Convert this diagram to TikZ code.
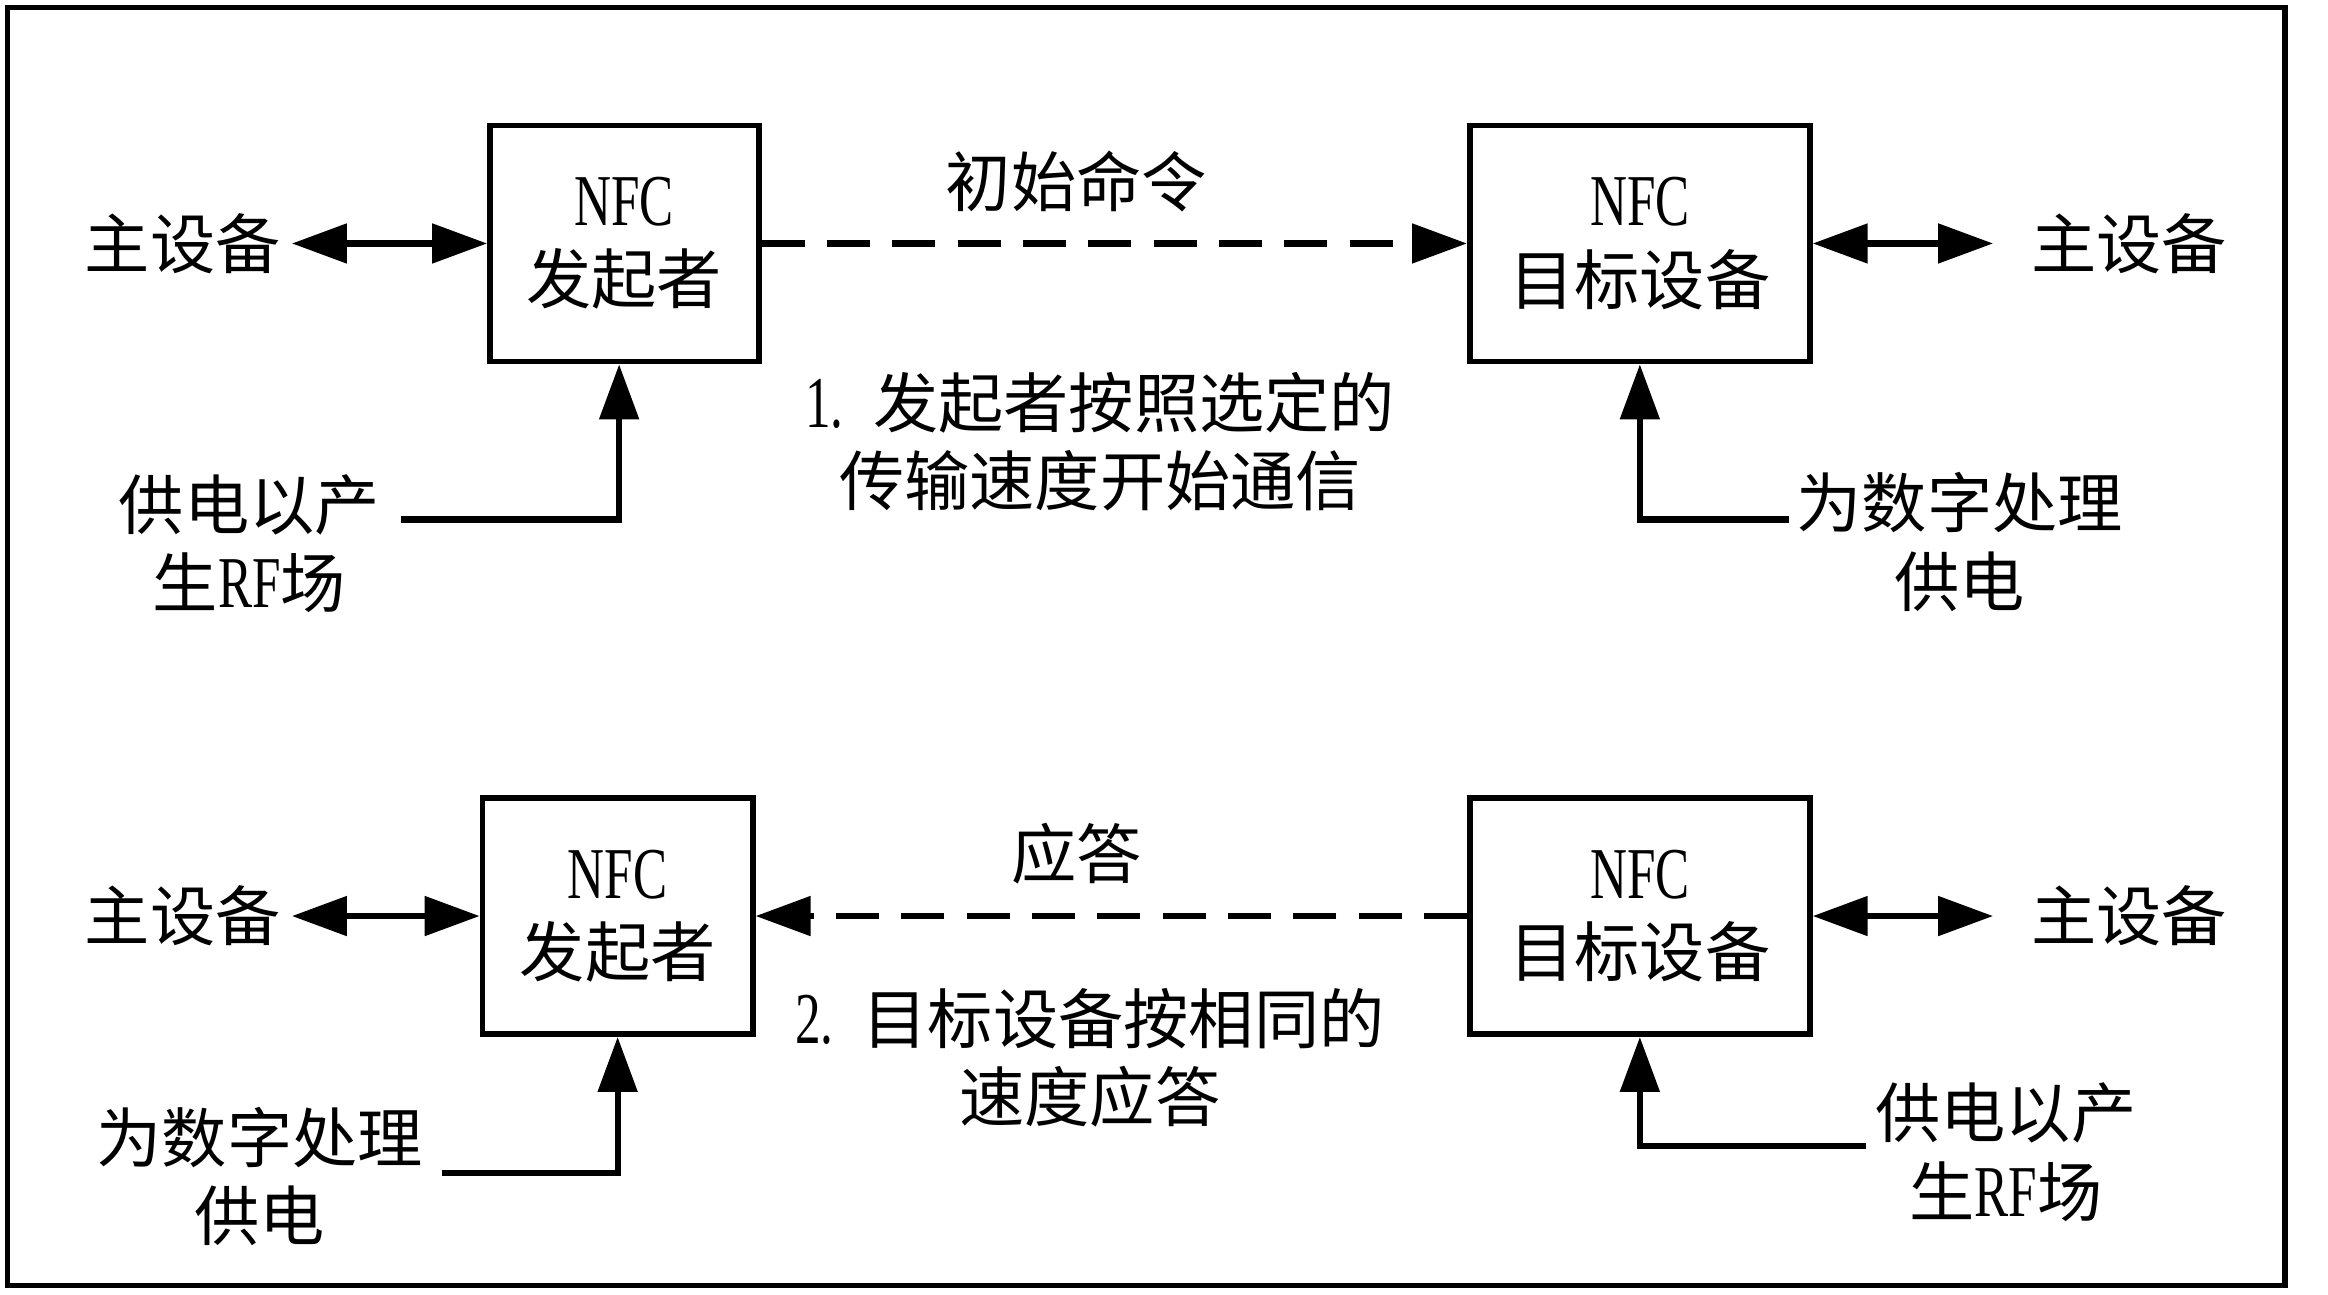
\documentclass[tikz,border=0pt]{standalone}
\usepackage{fontspec}
\setmainfont{Noto Sans CJK SC}
\newfontfamily\nfcfont[FakeStretch=0.7]{Liberation Serif}
\newcommand{\lat}[1]{{\nfcfont\fontsize{14pt}{15pt}\selectfont #1}}
\usetikzlibrary{arrows.meta}
\tikzset{
  >={Triangle[length=3.7mm,width=2.6mm]},
  txt/.style={font=\fontsize{12.5pt}{15pt}\selectfont, align=center, inner sep=2pt},
  nfcbox/.style={txt, draw, line width=1.1pt, minimum height=1.59cm},
  link/.style={line width=1.2pt},
  radio/.style={link, dash pattern=on 2.9mm off 1.5mm}
}

\begin{document}
\begin{tikzpicture}
    \useasboundingbox (0,0) rectangle (15.68,8.72);
    \draw[line width=1pt] (0.05,0.06) rectangle (15.39,8.67);
    % step 1: initiator sends
    \node[nfcbox,minimum width=1.81cm] (ini1) at (4.205,7.08) {\lat{NFC}\\发起者};
    \node[nfcbox,minimum width=2.29cm] (tgt1) at (11.045,7.08) {\lat{NFC}\\目标设备};
    \node[txt] (host1) at (1.23,7.08) {主设备};
    \node[txt,inner xsep=0.25cm] (host2) at (14.34,7.08) {主设备};
    \draw[link,<->] (host1) -- (ini1);
    \draw[link,<->] (tgt1) -- (host2);
    \draw[radio,->] (ini1) -- (tgt1);
    \node[txt] (cmd) at (7.25,7.50) {初始命令};
    \node[txt] (step1) at (7.41,5.745) {\lat{1.}\hspace{0.45em}发起者按照选定的\\传输速度开始通信};
    \node[txt] (rf1) at (1.68,5.06) {供电以产\\生\lat{RF}场};
    \coordinate (rf1in) at (2.70,5.22);
    \draw[link,->] (rf1in) -| ([xshift=-0.35mm]ini1.south);
    \node[txt] (dp1) at (13.20,5.07) {为数字处理\\供电};
    \coordinate (dp1in) at (12.05,5.22);
    \draw[link,->] (dp1in) -| (tgt1);
    % step 2: target answers
    \node[nfcbox,minimum width=1.82cm] (ini2) at (4.16,2.55) {\lat{NFC}\\发起者};
    \node[nfcbox,minimum width=2.29cm] (tgt2) at (11.045,2.55) {\lat{NFC}\\目标设备};
    \node[txt] (host3) at (1.23,2.55) {主设备};
    \node[txt,inner xsep=0.25cm] (host4) at (14.34,2.55) {主设备};
    \draw[link,<->] (host3) -- (ini2);
    \draw[link,<->] (tgt2) -- (host4);
    \draw[radio,->] (tgt2) -- (ini2);
    \node[txt] (ans) at (7.25,2.97) {应答};
    \node[txt] (step2) at (7.34,1.595) {\lat{2.}\hspace{0.45em}目标设备按相同的\\速度应答};
    \node[txt] (dp2) at (1.75,0.795) {为数字处理\\供电};
    \coordinate (dp2in) at (2.98,0.82);
    \draw[link,->] (dp2in) -| (ini2);
    \node[txt] (rf2) at (13.51,0.96) {供电以产\\生\lat{RF}场};
    \coordinate (rf2in) at (12.57,1.00);
    \draw[link,->] (rf2in) -| (tgt2);
\end{tikzpicture}
\end{document}
